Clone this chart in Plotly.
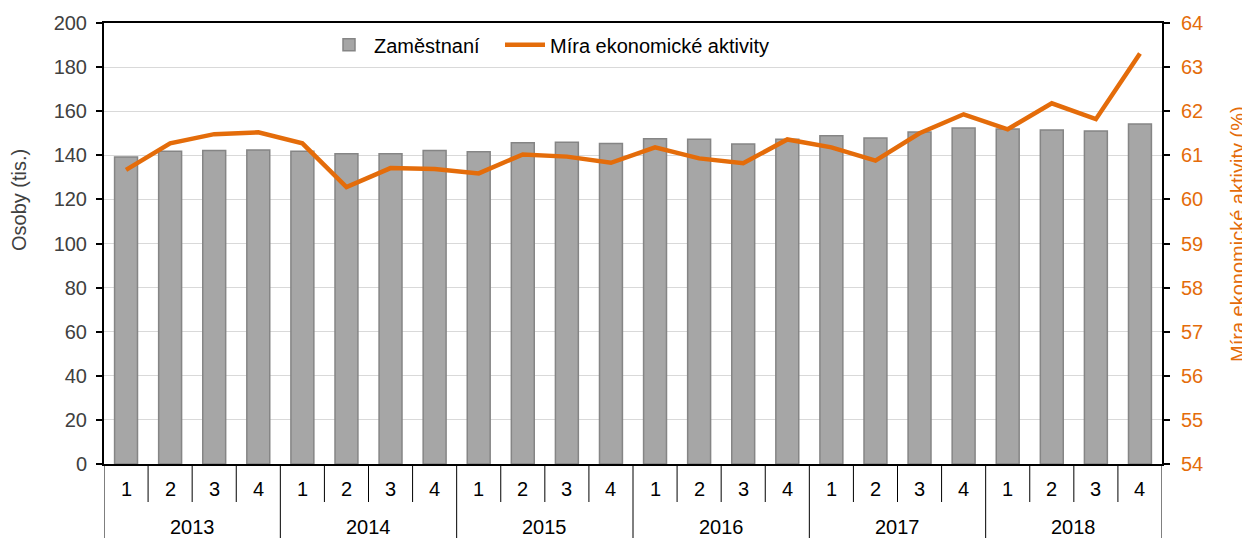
import plotly.graph_objects as go

years = ["2013", "2014", "2015", "2016", "2017", "2018"]
quarters = ["1", "2", "3", "4"]
zamestnani = [139.2, 141.8, 142.2, 142.4,
              141.8, 140.7, 140.7, 142.2,
              141.6, 145.7, 145.9, 145.3,
              147.5, 147.3, 145.1, 147.3,
              148.9, 147.8, 150.6, 152.4,
              151.9, 151.5, 151.0, 154.2]
mira = [60.67, 61.27, 61.48, 61.52,
        61.27, 60.28, 60.71, 60.69,
        60.59, 61.02, 60.97, 60.83,
        61.18, 60.93, 60.82, 61.36,
        61.18, 60.88, 61.50, 61.93,
        61.59, 62.18, 61.82, 63.31]

n = len(zamestnani)
xs = list(range(n))
q_labels = [quarters[i % 4] for i in xs]

ORANGE = "#E46C0A"
FONT = "Liberation Sans, Arial, sans-serif"
FS = 20

fig = go.Figure()
fig.add_trace(go.Bar(x=xs, y=zamestnani, name="Zaměstnaní",
                     marker=dict(color="#A6A6A6", line=dict(color="#858585", width=1.5)),
                     yaxis="y", legend="legend"))
fig.add_trace(go.Scatter(x=xs, y=mira, name="Míra ekonomické aktivity", mode="lines",
                         line=dict(color=ORANGE, width=4.5), yaxis="y2", legend="legend2"))

# page body has an 8px margin: plot area on screen is x 104..1162, y 23..464
W, H = 1242, 530
ML, MT = 96, 15
plot_w = 1058
plot_h = 441
MR = W - ML - plot_w
MB = H - MT - plot_h

def py(screen_y):
    return (464 - screen_y) / plot_h

def px(screen_x):
    return (screen_x - 104) / plot_w

ann = []
for i, q in enumerate(q_labels):
    ann.append(dict(x=i, y=py(489), xref="x", yref="paper", text=q,
                    showarrow=False, yanchor="middle", font=dict(size=FS, color="#000000")))
for j, yr in enumerate(years):
    ann.append(dict(x=4 * j + 1.5, y=py(527), xref="x", yref="paper", text=yr,
                    showarrow=False, yanchor="middle", font=dict(size=FS, color="#000000")))
ann.append(dict(x=px(19), y=py(200), xref="paper", yref="paper", text="Osoby (tis.)",
                textangle=-90, showarrow=False, xanchor="center", yanchor="middle",
                font=dict(size=FS, color="#404040")))
ann.append(dict(x=px(1238), y=py(234), xref="paper", yref="paper", text="Míra ekonomické aktivity (%)",
                textangle=-90, showarrow=False, xanchor="center", yanchor="middle",
                borderpad=0,
                font=dict(size=FS, color=ORANGE)))

shapes = []
for b in range(n + 1):
    full = (b % 4 == 0)
    y0 = py(538) if full else py(502)
    shapes.append(dict(type="line", xref="x", yref="paper", x0=b - 0.5, x1=b - 0.5,
                       y0=0, y1=y0, line=dict(color="#000000", width=1)))

fig.update_layout(
    width=W, height=H,
    margin=dict(l=ML, r=MR, t=MT, b=MB),
    plot_bgcolor="white", paper_bgcolor="white",
    font=dict(family=FONT, size=FS, color="#404040"),
    bargap=0.48,
    showlegend=True,
    legend=dict(orientation="h", x=px(324), y=0.995, xanchor="left", yanchor="top",
                bgcolor="rgba(255,255,255,0)", font=dict(size=FS, color="#000000"),
                itemwidth=40),
    legend2=dict(orientation="h", x=px(500), y=0.995, xanchor="left", yanchor="top",
                 bgcolor="rgba(255,255,255,0)", font=dict(size=FS, color="#000000"),
                 itemwidth=40),
    xaxis=dict(range=[-0.5, n - 0.5], showticklabels=False, ticks="", showgrid=False,
               showline=True, linecolor="#000000", linewidth=2, mirror=True, zeroline=False,
               automargin=False),
    yaxis=dict(range=[0, 200], dtick=20, showgrid=True, gridcolor="#D9D9D9", gridwidth=1.3,
               showline=True, linecolor="#000000", linewidth=2, ticks="outside", ticklen=6,
               tickcolor="#000000", tickwidth=1.5, ticklabelstandoff=5,
               tickfont=dict(size=FS, color="#404040"),
               zeroline=False, automargin=False),
    yaxis2=dict(range=[54, 64], dtick=1, overlaying="y", side="right", showgrid=False,
                showline=True, linecolor="#000000", linewidth=2, ticks="outside", ticklen=6,
                tickcolor="#000000", tickwidth=1.5, ticklabelstandoff=7,
                tickfont=dict(size=FS, color=ORANGE),
                zeroline=False, automargin=False),
    annotations=ann,
    shapes=shapes,
)

fig.write_html("out.html")
